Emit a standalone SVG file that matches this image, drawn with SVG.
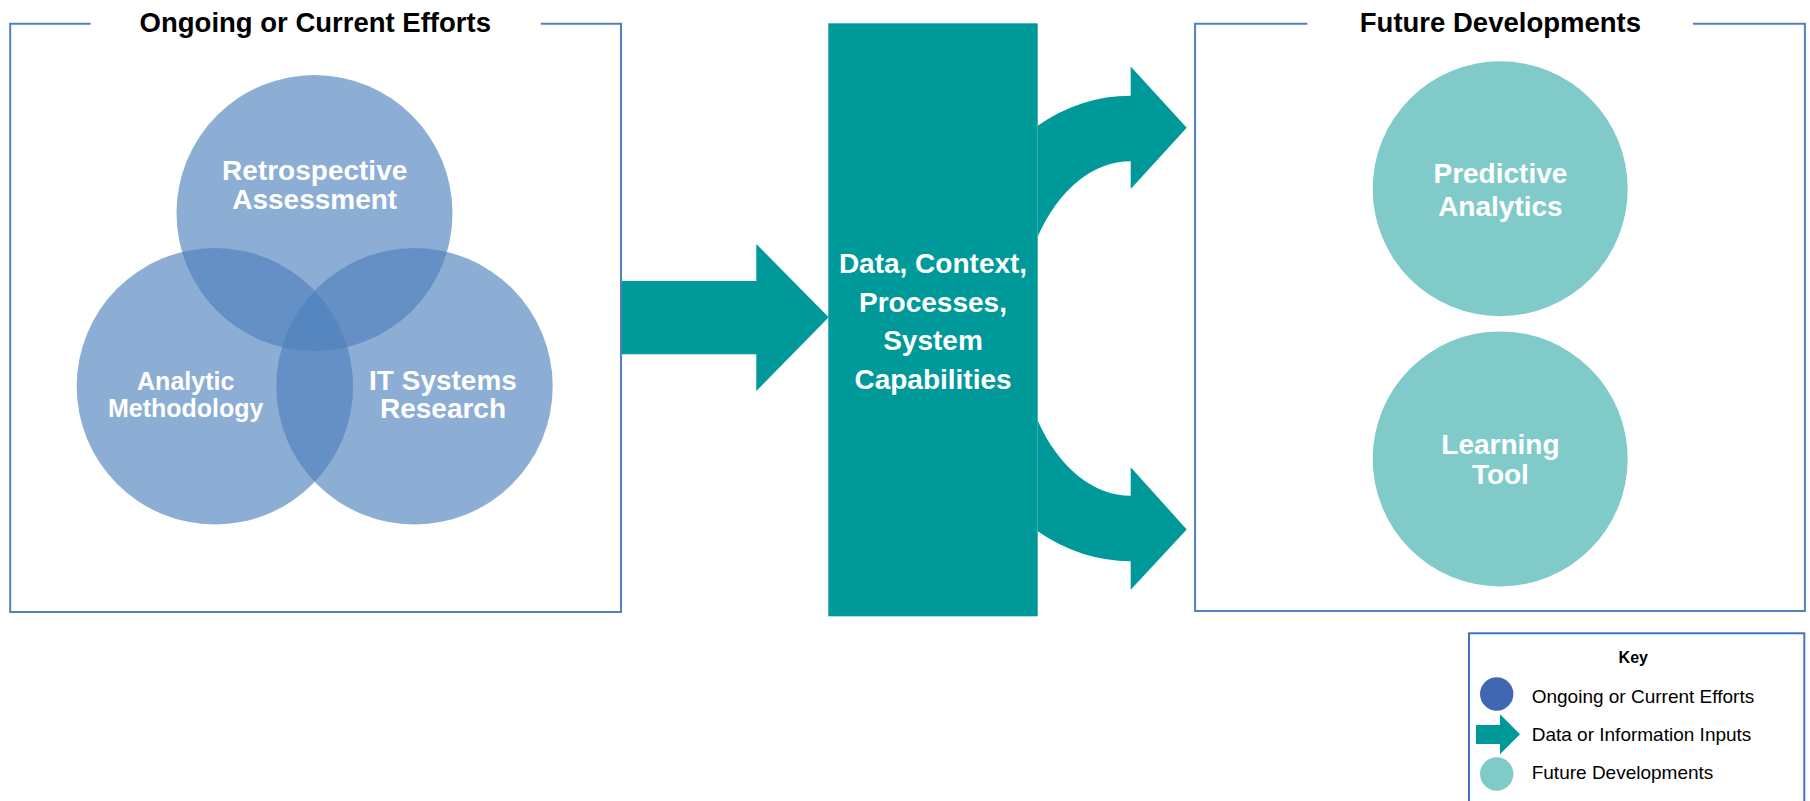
<svg xmlns="http://www.w3.org/2000/svg" width="1810" height="801" viewBox="0 0 1810 801">
<style>
.frame{fill:none;stroke:#4F81BD;stroke-width:2}
.title{font-family:"Liberation Sans",Arial,sans-serif;font-weight:bold;font-size:27.5px;fill:#000;text-anchor:middle}
.venn{fill:#4F81BD;fill-opacity:0.65}
.vt{font-family:"Liberation Sans",Arial,sans-serif;font-weight:bold;fill:#fff;text-anchor:middle}
.teal{fill:#009999}
.fut{fill:#80CBC9}
.key{font-family:"Liberation Sans",Arial,sans-serif;font-size:19px;fill:#000}
</style>
<rect width="1810" height="801" fill="#fff"/>

<g id="ongoing-frame">
<path class="frame" d="M90.6 23.7 H10.2 V612 H621 V23.7 H540.8"/>
<text class="title" x="315.3" y="31.6">Ongoing or Current Efforts</text>
</g>

<g id="retrospective">
<circle class="venn" cx="314.5" cy="213.1" r="138"/>
<text class="vt" font-size="28" x="314.7" y="180">Retrospective</text>
<text class="vt" font-size="28" x="314.7" y="208.8">Assessment</text>
</g>
<g id="analytic">
<circle class="venn" cx="214.9" cy="386.3" r="138.2"/>
<text class="vt" font-size="25" x="185.7" y="389.5">Analytic</text>
<text class="vt" font-size="25" x="185.7" y="417.2">Methodology</text>
</g>
<g id="itsystems">
<circle class="venn" cx="414.5" cy="386.3" r="138.2"/>
<text class="vt" font-size="28" x="443" y="389.5">IT Systems</text>
<text class="vt" font-size="28" x="443" y="418.3">Research</text>
</g>

<g id="connectors">
<path class="teal" d="M622 281 H756.3 V244 L828.7 317.3 L756.3 391 V354.3 H622 Z"/>
<path class="teal" d="M1037.7 125.7 A189.6 232.7 0 0 1 1130.7 95.8 V66.5 L1186.7 127.8 L1130.7 189 V161.2 A111.3 167.3 0 0 0 1037.7 236.6 Z"/>
<path class="teal" d="M1037.7 420.4 A111.3 167.3 0 0 0 1130.7 495.8 V467.3 L1186.7 529.4 L1130.7 589.8 V561.2 A189.6 232.7 0 0 1 1037.7 531.3 Z"/>
</g>

<g id="data-context">
<rect class="teal" x="828.3" y="23.3" width="209.4" height="593"/>
<text class="vt" font-size="28" x="933" y="273">Data, Context,</text>
<text class="vt" font-size="28" x="933" y="311.5">Processes,</text>
<text class="vt" font-size="28" x="933" y="350">System</text>
<text class="vt" font-size="28" x="933" y="388.5">Capabilities</text>
</g>

<g id="future-frame">
<path class="frame" d="M1307.4 23.7 H1195.1 V611 H1804.9 V23.7 H1693"/>
<text class="title" x="1500.4" y="31.6">Future Developments</text>
</g>

<g id="predictive">
<circle class="fut" cx="1500.2" cy="188.8" r="127.5"/>
<text class="vt" font-size="28" x="1500.4" y="182.7">Predictive</text>
<text class="vt" font-size="28" x="1500.4" y="215.5">Analytics</text>
</g>
<g id="learning">
<circle class="fut" cx="1500.2" cy="458.9" r="127.5"/>
<text class="vt" font-size="28" x="1500.4" y="453.5">Learning</text>
<text class="vt" font-size="28" x="1500.4" y="484.4">Tool</text>
</g>

<g id="key">
<rect x="1469" y="633.3" width="335.3" height="200" fill="none" stroke="#4472C4" stroke-width="2"/>
<text x="1633.3" y="663.3" font-family="Liberation Sans,Arial,sans-serif" font-weight="bold" font-size="16" text-anchor="middle">Key</text>
<circle cx="1496.7" cy="694" r="16.7" fill="#4267B2"/>
<text class="key" x="1531.7" y="702.7">Ongoing or Current Efforts</text>
<path class="teal" d="M1476 725 H1500 V714.3 L1520 734.3 L1500 754.3 V744 H1476 Z"/>
<text class="key" x="1531.7" y="740.7">Data or Information Inputs</text>
<circle class="fut" cx="1496.7" cy="774" r="16.7"/>
<text class="key" x="1531.7" y="779.3">Future Developments</text>
</g>
</svg>
